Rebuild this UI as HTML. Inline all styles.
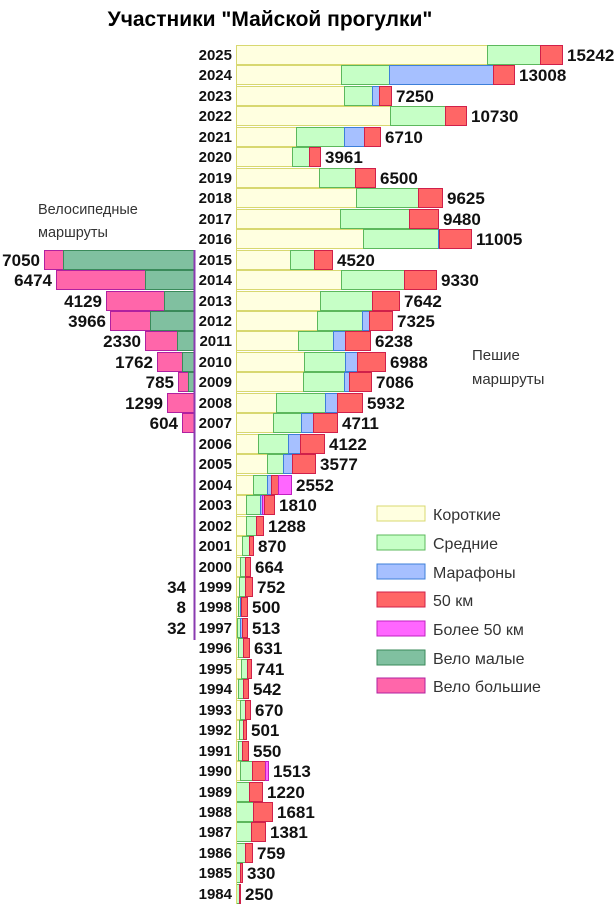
<!DOCTYPE html>
<html><head><meta charset="utf-8">
<style>
html,body{margin:0;padding:0;background:#fff;}
svg{display:block;font-family:"Liberation Sans","DejaVu Sans",sans-serif;}
</style></head>
<body>
<svg id="c" width="616" height="906" viewBox="0 0 616 906" xmlns="http://www.w3.org/2000/svg">
<text x="270" y="26" text-anchor="middle" font-size="21" font-weight="bold" fill="#000">Участники "Майской прогулки"</text>
<text x="38" y="214" font-size="14.5" fill="#333">Велосипедные</text>
<text x="38" y="237" font-size="14.5" fill="#333">маршруты</text>
<text x="472" y="360" font-size="15" fill="#333">Пешие</text>
<text x="472" y="384" font-size="15" fill="#333">маршруты</text>
<g id="bars"></g>
<g font-size="16" fill="#333">
<rect x="377" y="506" width="48" height="15" fill="#ffffe0" stroke="#d8d870"/><text x="433" y="520">Короткие</text>
<rect x="377" y="535" width="48" height="15" fill="#c6ffc6" stroke="#5cb85c"/><text x="433" y="549">Средние</text>
<rect x="377" y="564" width="48" height="15" fill="#a6c0ff" stroke="#3d7fd9"/><text x="433" y="578">Марафоны</text>
<rect x="377" y="592" width="48" height="15" fill="#ff6666" stroke="#d0204a"/><text x="433" y="606">50 км</text>
<rect x="377" y="621" width="48" height="15" fill="#ff66ff" stroke="#c020c0"/><text x="433" y="635">Более 50 км</text>
<rect x="377" y="650" width="48" height="15" fill="#80c0a0" stroke="#3a8a5a"/><text x="433" y="664">Вело малые</text>
<rect x="377" y="678" width="48" height="15" fill="#ff66aa" stroke="#b020a0"/><text x="433" y="692">Вело большие</text>
</g>
</svg>
<script>
var C={y:["#ffffe0","#d8d870"],g:["#c6ffc6","#5cb85c"],b:["#a6c0ff","#3d7fd9"],r:["#ff6666","#d0204a"],m:["#ff66ff","#c020c0"],vs:["#80c0a0","#3a8a5a"],vb:["#ff66aa","#b020a0"]};
var D=[
[2025,"15242",[["y",487],["g",540],["r",562]]],
[2024,"13008",[["y",341],["g",389],["b",493],["r",514]]],
[2023,"7250",[["y",344],["g",372],["b",379],["r",391]]],
[2022,"10730",[["y",390],["g",445],["r",466]]],
[2021,"6710",[["y",296],["g",344],["b",364],["r",380]]],
[2020,"3961",[["y",292],["g",309],["r",320]]],
[2019,"6500",[["y",319],["g",355],["r",375]]],
[2018,"9625",[["y",356],["g",418],["r",442]]],
[2017,"9480",[["y",340],["g",409],["r",438]]],
[2016,"11005",[["y",363],["g",438],["b",439],["r",471]]],
[2015,"4520",[["y",290],["g",314],["r",332]]],
[2014,"9330",[["y",341],["g",404],["r",436]]],
[2013,"7642",[["y",320],["g",372],["r",399]]],
[2012,"7325",[["y",317],["g",362],["b",369],["r",392]]],
[2011,"6238",[["y",298],["g",333],["b",345],["r",370]]],
[2010,"6988",[["y",304],["g",345],["b",357],["r",385]]],
[2009,"7086",[["y",303],["g",344],["b",349],["r",371]]],
[2008,"5932",[["y",276],["g",325],["b",337],["r",362]]],
[2007,"4711",[["y",273],["g",301],["b",313],["r",337]]],
[2006,"4122",[["y",258],["g",288],["b",300],["r",324]]],
[2005,"3577",[["y",267],["g",283],["b",292],["r",315]]],
[2004,"2552",[["y",253],["g",267],["b",271],["r",278],["m",291]]],
[2003,"1810",[["y",246],["g",260],["b",262],["m",264],["r",274]]],
[2002,"1288",[["y",246],["g",256],["r",263]]],
[2001,"870",[["y",242],["g",249],["r",253]]],
[2000,"664",[["y",240],["g",245],["r",250]]],
[1999,"752",[["y",239],["g",245],["r",252]]],
[1998,"500",[["y",238],["g",240],["b",241],["r",247]]],
[1997,"513",[["y",237],["g",240],["b",242],["r",247]]],
[1996,"631",[["y",238],["g",243],["r",249]]],
[1995,"741",[["y",241],["g",247],["r",251]]],
[1994,"542",[["y",238],["g",243],["r",248]]],
[1993,"670",[["y",240],["g",245],["r",250]]],
[1992,"501",[["y",239],["g",243],["r",246]]],
[1991,"550",[["y",238],["g",242],["r",248]]],
[1990,"1513",[["y",240],["g",252],["r",265],["m",268]]],
[1989,"1220",[["g",249],["r",262]]],
[1988,"1681",[["g",253],["r",272]]],
[1987,"1381",[["g",251],["r",265]]],
[1986,"759",[["g",245],["r",252]]],
[1985,"330",[["g",240],["r",242]]],
[1984,"250",[["g",239],["r",240]]]
];
var V={2015:["7050",44,63],2014:["6474",56,145],2013:["4129",106,164],2012:["3966",110,150],2011:["2330",145,177],2010:["1762",157,182],2009:["785",178,188],2008:["1299",167,194],2007:["604",182,194],1999:["34",190,190],1998:["8",190,190],1997:["32",190,190]};
var s="";
function rect(x1,x2,y,c){if(x2-x1<=0)return "";return '<rect x="'+(x1+.5)+'" y="'+(y+.5)+'" width="'+(x2-x1)+'" height="19" fill="'+C[c][0]+'" stroke="'+C[c][1]+'" stroke-width="1"/>';}
D.forEach(function(d,i){
 var y=Math.round(45+i*20.46);
 var x=236;
 d[2].forEach(function(sg){s+=rect(x,sg[1],y,sg[0]);x=sg[1];});
 s+='<text x="232" y="'+(y+15)+'" text-anchor="end" font-size="15" font-weight="bold" fill="#111">'+d[0]+'</text>';
 s+='<text x="'+(x+5)+'" y="'+(y+16)+'" font-size="17" font-weight="bold" fill="#111">'+d[1]+'</text>';
 var v=V[d[0]];
 if(v){
  if(v[2]>v[1]){s+=rect(v[1],v[2],y,"vb");}
  if(v[2]<194&&v[1]<v[2]){s+=rect(v[2],194,y,"vs");}
  s+='<text x="'+(v[1]-4)+'" y="'+(y+16)+'" text-anchor="end" font-size="17" font-weight="bold" fill="#111">'+v[0]+'</text>';
 }
});
s+='<line x1="194.5" y1="250" x2="194.5" y2="640" stroke="#8a3ab0" stroke-width="2"/>';
s+='<line x1="236.5" y1="45" x2="236.5" y2="904" stroke="#d8d870" stroke-width="1"/>';
document.getElementById("bars").innerHTML=s;
</script>
</body></html>
